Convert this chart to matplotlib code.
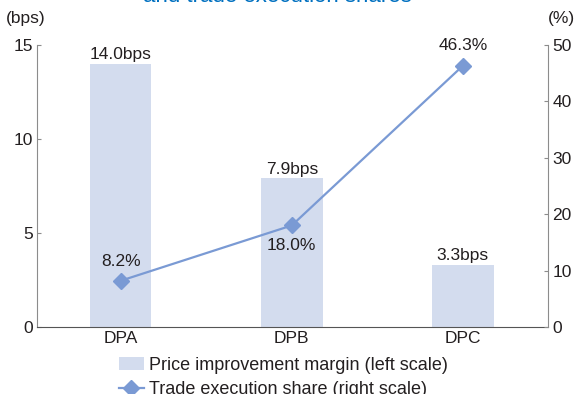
import matplotlib.pyplot as plt
from matplotlib.lines import Line2D
from matplotlib.patches import Patch

categories = ['DPA', 'DPB', 'DPC']
margin_bps = [14.0, 7.9, 3.3]
exec_share = [8.2, 18.0, 46.3]
left_ticks = [0, 5, 10, 15]
right_ticks = [0, 10, 20, 30, 40, 50]

bar_color = '#D3DCEE'
line_color = '#7A9AD4'
text_color = '#231F20'
axis_color = '#8C8C8C'

plt.rcParams['font.family'] = ['Liberation Sans', 'DejaVu Sans']
plt.rcParams['font.size'] = 12.5

fig = plt.figure(figsize=(5.76, 3.94), dpi=100)
ax = fig.add_axes([0.064, 0.170, 0.888, 0.716])
x = list(range(len(categories)))

ax.bar(x, margin_bps, width=0.36, color=bar_color, zorder=1)
for xi, v in zip(x, margin_bps):
    ax.text(xi, v + 0.1, f'{v:.1f}bps', ha='center', va='bottom', color=text_color)

ax.set_xlim(-0.49, 2.5)
ax.set_ylim(0, 15)
ax.set_yticks(left_ticks)
ax.set_xticks(x)
ax.set_xticklabels(categories)
ax.spines['top'].set_visible(False)
ax.spines['right'].set_visible(False)
ax.spines['left'].set_color(axis_color)
ax.spines['bottom'].set_color('#555555')
ax.tick_params(axis='y', direction='in', length=3, color=axis_color, labelcolor=text_color, pad=3)
ax.tick_params(axis='x', length=0, labelcolor=text_color, pad=3)

ax2 = ax.twinx()
ax2.plot(x, exec_share, color=line_color, lw=1.6, marker='D', markersize=8, zorder=3)
ax2.set_ylim(0, 50)
ax2.set_yticks(right_ticks)
for sp in ['top', 'left', 'bottom']:
    ax2.spines[sp].set_visible(False)
ax2.spines['right'].set_color(axis_color)
ax2.tick_params(axis='y', direction='in', length=3, color=axis_color, labelcolor=text_color, pad=3)

offsets = [2.0, -2.3, 2.3]
for xi, v, off in zip(x, exec_share, offsets):
    ax2.text(xi, v + off, f'{v:.1f}%', ha='center', va='bottom' if off > 0 else 'top', color=text_color)

fig.text(0.010, 0.935, '(bps)', ha='left', va='bottom', color=text_color)
fig.text(0.998, 0.935, '(%)', ha='right', va='bottom', color=text_color)
fig.text(0.481, 0.994, 'and trade execution shares', ha='center', va='baseline',
         color='#0070C0', fontsize=16)

handles = [
    Patch(facecolor=bar_color, edgecolor='none'),
    Line2D([0], [0], color=line_color, lw=1.6, marker='D', markersize=8),
]
labels = ['Price improvement margin (left scale)', 'Trade execution share (right scale)']
fig.legend(handles, labels, loc='upper left', bbox_to_anchor=(0.207, 0.094), frameon=False,
           ncol=1, handlelength=1.35, handletextpad=0.3, labelspacing=0.4, borderaxespad=0,
           borderpad=0, labelcolor=text_color, fontsize=13)

fig.savefig('out.png', dpi=100)
